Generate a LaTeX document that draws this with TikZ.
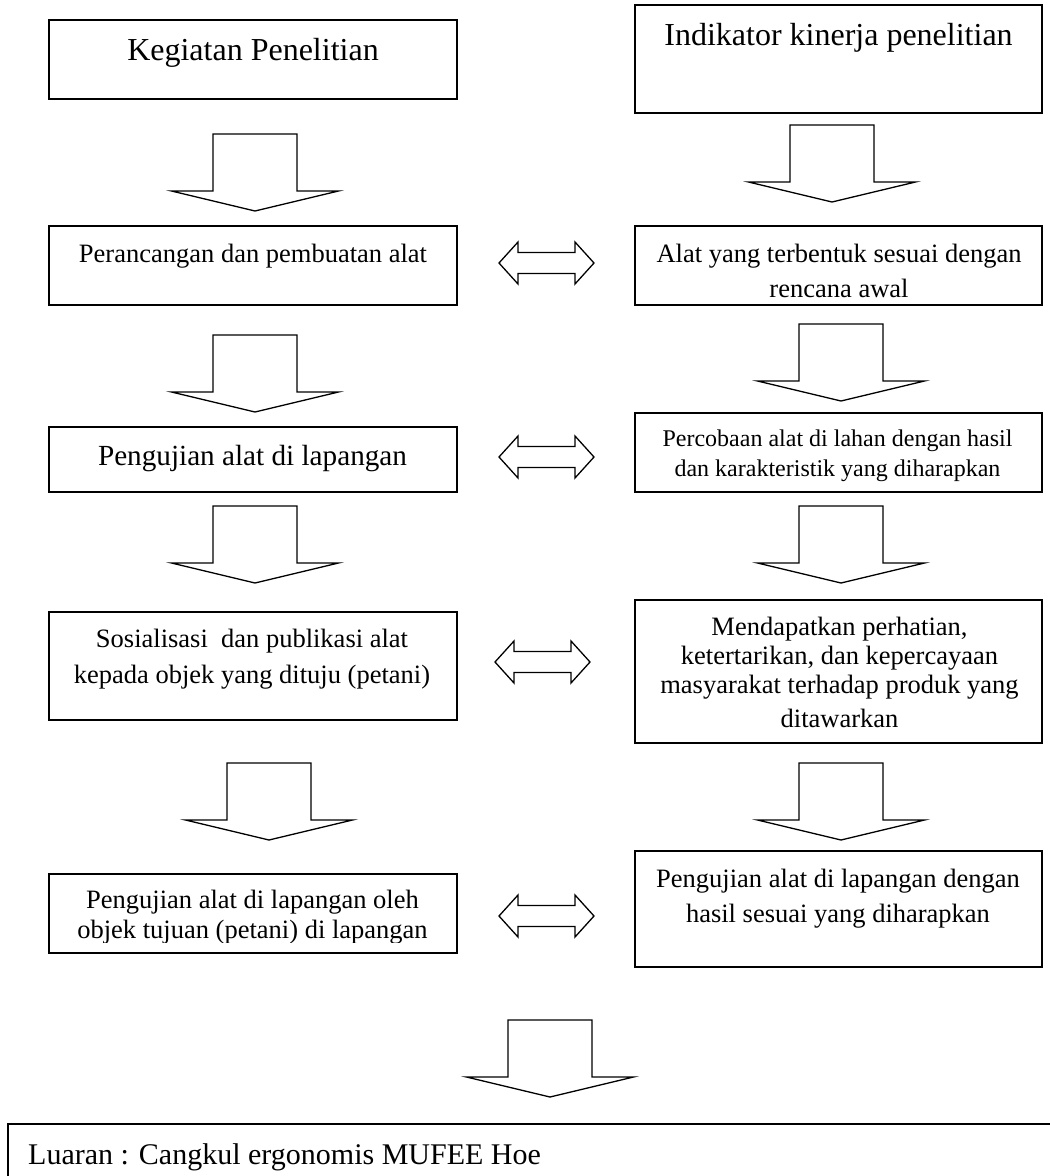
\documentclass[tikz,border=0pt]{standalone}
\usepackage{fontspec}
\setmainfont{Liberation Serif}
\newcommand\fs[2]{\fontsize{#1}{#2}\selectfont}
\newcommand\lines[1]{\begin{tabular}[t]{@{}c@{}}#1\end{tabular}}
\begin{document}
\begin{tikzpicture}[x=1pt,y=-1pt,
  bx/.style={draw, rectangle, line width=1.6pt, inner sep=0pt},
  txt/.style={inner sep=0pt, anchor=base},
  arrowline/.style={draw, line width=1.3pt, line join=miter, fill=white},
  downarr/.pic={\path[arrowline] (-42,0) -- (42,0) -- (42,57) -- (83.5,57) -- (0,77) -- (-83.5,57) -- (-42,57) -- cycle;},
  dblarr/.pic={\path[arrowline] (-47.5,0) -- (-28.5,-21) -- (-28.5,-10.5) -- (28.5,-10.5) -- (28.5,-21) -- (47.5,0) -- (28.5,21) -- (28.5,10.5) -- (-28.5,10.5) -- (-28.5,21) -- cycle;}
]
\path[use as bounding box] (0,0) rectangle (1050,1176);
\clip (0,0) rectangle (1050,1176);

% boxes, left column
\node[bx, minimum width=408pt, minimum height=79pt]  (K)  at (253,59.5) {};
\node[bx, minimum width=408pt, minimum height=79pt]  (P1) at (253,265.5) {};
\node[bx, minimum width=408pt, minimum height=65pt]  (P2) at (253,459.5) {};
\node[bx, minimum width=408pt, minimum height=108pt] (S)  at (253,666) {};
\node[bx, minimum width=408pt, minimum height=79pt]  (Pg) at (253,913.5) {};
% boxes, right column
\node[bx, minimum width=407pt, minimum height=108pt] (I)  at (838.5,59) {};
\node[bx, minimum width=407pt, minimum height=79pt]  (A)  at (838.5,265.5) {};
\node[bx, minimum width=407pt, minimum height=79pt]  (Pc) at (838.5,452.5) {};
\node[bx, minimum width=407pt, minimum height=143pt] (M)  at (838.5,671.5) {};
\node[bx, minimum width=407pt, minimum height=116pt] (Pr) at (838.5,909) {};
% bottom box
\node[bx, minimum width=1052pt, minimum height=66pt] (L)  at (534,1157) {};

% texts
\node[txt, font=\fs{32}{38}]   (tK)  at (253,60)   {Kegiatan Penelitian};
\node[txt, font=\fs{32}{38}]   (tI)  at (838.5,45) {Indikator kinerja penelitian};
\node[txt, font=\fs{26.5}{35}] (tP1) at (253,262)  {Perancangan dan pembuatan alat};
\node[txt, font=\fs{26.5}{35}] (tA)  at (839,262)  {\lines{Alat yang terbentuk sesuai dengan\\rencana awal}};
\node[txt, font=\fs{29.2}{35}] (tP2) at (252.5,465) {Pengujian alat di lapangan};
\node[txt, font=\fs{24}{30}]   (tPc) at (837.5,446) {\lines{Percobaan alat di lahan dengan hasil\\dan karakteristik yang diharapkan}};
\node[txt, font=\fs{26.5}{36}] (tS)  at (252,647)  {\lines{Sosialisasi~ dan publikasi alat\\kepada objek yang dituju (petani)}};
\node[txt, font=\fs{26.5}{29}] (tM)  at (839.5,635) {\lines{Mendapatkan perhatian,\\ketertarikan, dan kepercayaan\\masyarakat terhadap produk yang\\[5pt]ditawarkan}};
\begin{scope}
\clip (49,874) rectangle (457,942);
\node[txt, font=\fs{26.5}{30}] (tPg) at (252.5,908) {\lines{Pengujian alat di lapangan oleh\\objek tujuan (petani) di lapangan}};
\end{scope}
\node[txt, font=\fs{26.5}{35}] (tPr) at (838,887)  {\lines{Pengujian alat di lapangan dengan\\hasil sesuai yang diharapkan}};
\node[txt, anchor=base west, font=\fs{30}{36}] (tL) at (28,1164) {Luaran : Cangkul ergonomis MUFEE Hoe};

% down block arrows
\pic at (255,134) {downarr};
\pic at (255,335) {downarr};
\pic at (255,506) {downarr};
\pic at (269,763) {downarr};
\pic at (832,125) {downarr};
\pic at (841,324) {downarr};
\pic at (841,506) {downarr};
\pic at (841,763) {downarr};
\pic at (550,1020) {downarr};

% double block arrows
\pic at (546.5,263) {dblarr};
\pic at (546.5,457) {dblarr};
\pic at (542.5,662) {dblarr};
\pic at (546.5,916) {dblarr};
\end{tikzpicture}
\end{document}
